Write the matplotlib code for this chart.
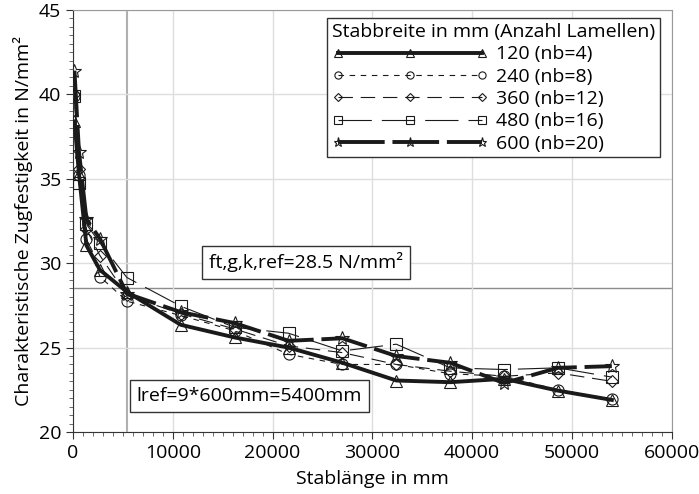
import matplotlib
matplotlib.use("Agg")
import matplotlib.pyplot as plt
from matplotlib.ticker import MultipleLocator

plt.rcParams['font.family'] = ['Open Sans', 'DejaVu Sans']

x_len = [150, 600, 1350, 2700, 5400, 10800, 16200, 21600, 27000, 32400, 37800, 43200, 48600, 54000]

y_120 = [38.4, 35.3, 31.05, 29.6, 28.3, 26.35, 25.6, 25.0, 24.1, 23.05, 22.95, 23.15, 22.45, 21.9]
y_240 = [39.9, 35.2, 31.45, 29.2, 27.75, 26.9, 26.0, 24.6, 24.0, 24.0, 23.45, 23.3, 22.5, 21.95]
y_360 = [40.0, 35.6, 32.0, 30.45, 28.1, 27.0, 26.1, 25.1, 24.7, 24.0, 23.6, 23.3, 23.5, 23.0]
y_480 = [39.9, 34.75, 32.3, 31.2, 29.15, 27.45, 26.2, 25.85, 24.8, 25.2, 23.8, 23.7, 23.8, 23.25]
y_600 = [41.4, 36.6, 32.6, 31.45, 28.2, 27.1, 26.45, 25.4, 25.55, 24.5, 24.1, 22.9, 23.8, 23.9]

labels = ["120 (nb=4)", "240 (nb=8)", "360 (nb=12)", "480 (nb=16)", "600 (nb=20)"]
ref_strength = 28.5
ref_length = 5400

FS = 14

fig = plt.figure(figsize=(6.99, 4.94), dpi=100)
ax = fig.add_axes([0.1044, 0.1255, 0.8566, 0.8545])

styles = [
    dict(lw=2.8, ls='-', marker='^'),
    dict(lw=0.8, ls=(0, (5, 5)), marker='o'),
    dict(lw=0.8, ls=(0, (13, 7)), marker='D'),
    dict(lw=0.8, ls=(0, (30, 9)), marker='s'),
    dict(lw=2.8, ls=(0, (12, 2)), marker='*'),
]
msizes = [8, 8, 6, 8, 10]
series = [y_120, y_240, y_360, y_480, y_600]
for ys, st, lab, ms in zip(series, styles, labels, msizes):
    ax.plot(x_len, ys, color='#1a1a1a', linewidth=st['lw'], linestyle=st['ls'],
            marker=st['marker'], markersize=ms, markerfacecolor='none',
            markeredgecolor='#1a1a1a', markeredgewidth=0.8, label=lab, zorder=3)

ax.axhline(ref_strength, color='#8c8c8c', lw=1.0, zorder=1)
ax.axvline(ref_length, color='#b0b0b0', lw=1.5, zorder=1)

ax.set_xlim(0, 60000)
ax.set_ylim(20, 45)
ax.xaxis.set_major_locator(MultipleLocator(10000))
ax.xaxis.set_minor_locator(MultipleLocator(1000))
ax.yaxis.set_major_locator(MultipleLocator(5))
ax.yaxis.set_minor_locator(MultipleLocator(0.5))
ax.grid(True, which='major', color='#dedede', lw=1.0, zorder=0)
ax.tick_params(which='major', direction='out', length=5, labelsize=FS, color='#333333')
ax.tick_params(which='minor', direction='out', length=3, color='#555555')
for s in ['left', 'bottom']:
    ax.spines[s].set_color('#333333')
for s in ['top', 'right']:
    ax.spines[s].set_color('#999999')

ax.set_xlabel("Stablänge in mm", fontsize=FS, labelpad=6)
ax.set_ylabel("Charakteristische Zugfestigkeit in N/mm²", fontsize=FS, labelpad=4)

bbox = dict(boxstyle='square,pad=0.35', facecolor='white', edgecolor='#333333', lw=1.0)
ax.text(13600, 30.05, "ft,g,k,ref=28.5 N/mm²", fontsize=FS, va='center', ha='left', bbox=bbox, zorder=4)
ax.text(6400, 22.15, "lref=9*600mm=5400mm", fontsize=FS, va='center', ha='left', bbox=bbox, zorder=4)

leg = ax.legend(title="Stabbreite in mm (Anzahl Lamellen)", loc='upper right',
                bbox_to_anchor=(0.997, 1.003), fontsize=FS, title_fontsize=FS,
                numpoints=3, handlelength=8.0, markerscale=0.65, fancybox=False,
                framealpha=1, edgecolor='#333333', borderpad=0.25, labelspacing=0.22,
                handletextpad=0.4)
leg._legend_box.align = 'left'
leg.get_frame().set_linewidth(1.0)

fig.savefig("out.png", dpi=100)
